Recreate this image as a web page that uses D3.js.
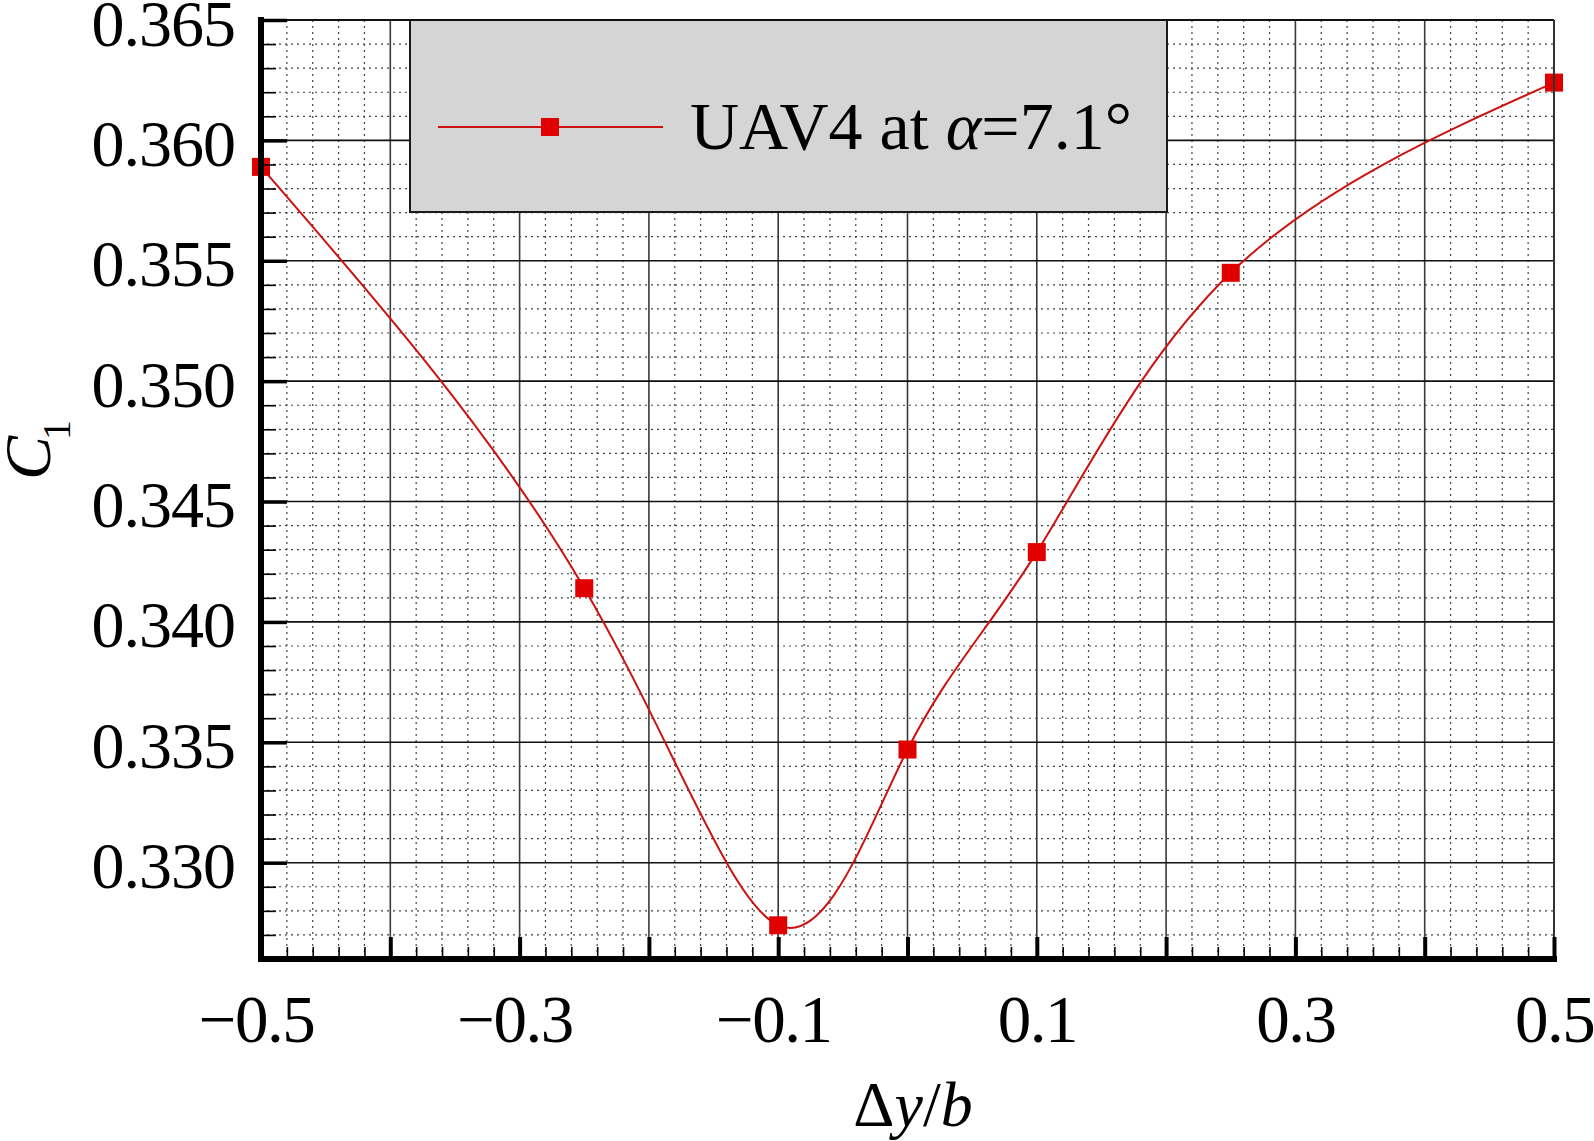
<!DOCTYPE html>
<html>
<head>
<meta charset="utf-8">
<script src="https://cdn.jsdelivr.net/npm/d3@7"></script>
<style>
  html, body { margin: 0; padding: 0; background: #fff; }
  svg { display: block; }
  text { font-family: "Liberation Serif", "Times New Roman", serif; fill: #000; }
</style>
</head>
<body>
<svg id="chart" width="1594" height="1141"></svg>
<script>
// ---- data ----
const dyb = [-0.5, -0.25, -0.1, 0, 0.1, 0.25, 0.5];
const cl = [0.3589, 0.3414, 0.3274, 0.3347, 0.3429, 0.3545, 0.3624];
const seriesName = "UAV4 at ";
const xMajorTicks = [-0.5, -0.4, -0.3, -0.2, -0.1, 0, 0.1, 0.2, 0.3, 0.4, 0.5];
const xLabelTicks = [-0.5, -0.3, -0.1, 0.1, 0.3, 0.5];
const yMajorTicks = [0.330, 0.335, 0.340, 0.345, 0.350, 0.355, 0.360, 0.365];

// ---- layout ----
const svg = d3.select("#chart");
const L = 261, R = 1554, T = 20, B = 959;
const x = d3.scaleLinear().domain([-0.5, 0.5]).range([L, R]);
const y = d3.scaleLinear().domain([0.326, 0.365]).range([B, T]);

const xMinor = d3.range(0, 51).map(i => +(-0.5 + i * 0.02).toFixed(3))
  .filter(v => Math.abs(Math.round(v * 10) - v * 10) > 1e-6);
const yMinor = d3.range(326, 366).map(i => i / 1000)
  .filter(v => Math.abs(Math.round(v * 200) - v * 200) > 1e-6);

// minor dotted grid
const g = svg.append("g");
g.selectAll("line.vmin").data(xMinor).join("line")
  .attr("x1", d => x(d)).attr("x2", d => x(d)).attr("y1", T).attr("y2", B)
  .attr("stroke", "#444").attr("stroke-width", 1.2).attr("stroke-dasharray", "2,4");
g.selectAll("line.hmin").data(yMinor).join("line")
  .attr("y1", d => y(d)).attr("y2", d => y(d)).attr("x1", L).attr("x2", R)
  .attr("stroke", "#444").attr("stroke-width", 1.2).attr("stroke-dasharray", "2,4");
// major grid
g.selectAll("line.vmaj").data(xMajorTicks.slice(1, -1)).join("line")
  .attr("x1", d => x(d)).attr("x2", d => x(d)).attr("y1", T).attr("y2", B)
  .attr("stroke", "#3a3a3a").attr("stroke-width", 1.6);
g.selectAll("line.hmaj").data(yMajorTicks).join("line")
  .attr("y1", d => y(d)).attr("y2", d => y(d)).attr("x1", L).attr("x2", R)
  .attr("stroke", "#111").attr("stroke-width", 1.6);

// legend box
const lg = svg.append("g");
lg.append("rect").attr("x", 410).attr("y", T).attr("width", 757).attr("height", 192)
  .attr("fill", "#d5d5d5").attr("stroke", "#1a1a1a").attr("stroke-width", 2);
lg.append("line").attr("x1", 438).attr("x2", 663).attr("y1", 127).attr("y2", 127)
  .attr("stroke", "#cc1111").attr("stroke-width", 2.2);
lg.append("rect").attr("x", 550 - 9).attr("y", 127 - 9).attr("width", 18).attr("height", 18)
  .attr("fill", "#e00000");
const lt = lg.append("text").attr("x", 690).attr("y", 149).attr("font-size", 68);
lt.append("tspan").text(seriesName);
lt.append("tspan").attr("font-style", "italic").text("α");
lt.append("tspan").text("=7.1°");

// curve
const line = d3.line().x((d, i) => x(dyb[i])).y(d => y(d)).curve(d3.curveNatural);
svg.append("path").datum(cl).attr("d", line)
  .attr("fill", "none").attr("stroke", "#cc1111").attr("stroke-width", 2);
svg.selectAll("rect.pt").data(cl).join("rect")
  .attr("x", (d, i) => x(dyb[i]) - 9).attr("y", d => y(d) - 9)
  .attr("width", 18).attr("height", 18).attr("fill", "#e00000");

// top & right border
svg.append("line").attr("x1", L).attr("x2", R).attr("y1", T).attr("y2", T)
  .attr("stroke", "#111").attr("stroke-width", 2);
svg.append("line").attr("x1", R).attr("x2", R).attr("y1", T).attr("y2", B)
  .attr("stroke", "#333").attr("stroke-width", 2);

// y axis
const yMinorAxis = svg.append("g").attr("transform", `translate(${L},0)`)
  .call(d3.axisLeft(y).tickValues(yMinor).tickSize(-15).tickFormat(""));
yMinorAxis.selectAll(".tick line").attr("stroke", "#000").attr("stroke-width", 1.6);
yMinorAxis.select(".domain").remove();
const yAx = svg.append("g").attr("transform", `translate(${L},0)`)
  .call(d3.axisLeft(y).tickValues(yMajorTicks).tickSize(-26).tickFormat(d3.format(".3f")));
yAx.selectAll(".tick line").attr("stroke", "#000").attr("stroke-width", 3.5);
yAx.select(".domain").remove();
yAx.selectAll(".tick text").attr("x", -26).attr("dy", null).attr("y", 25)
  .attr("font-size", 66).attr("letter-spacing", -1)
  .attr("font-family", "Liberation Serif, Times New Roman, serif")
  .attr("fill", "#000");

// x axis
const xMinorAxis = svg.append("g").attr("transform", `translate(0,${B})`)
  .call(d3.axisBottom(x).tickValues(xMinor).tickSize(-12).tickFormat(""));
xMinorAxis.selectAll(".tick line").attr("stroke", "#000").attr("stroke-width", 1.6);
xMinorAxis.select(".domain").remove();
const isLabel = v => xLabelTicks.some(t => Math.abs(t - v) < 1e-9);
const fmtX = v => isLabel(v) ? (v < 0 ? "\u2212" + d3.format(".1f")(-v) : d3.format(".1f")(v)) : "";
const xAx = svg.append("g").attr("transform", `translate(0,${B})`)
  .call(d3.axisBottom(x).tickValues(xMajorTicks).tickSize(-22).tickFormat(fmtX));
xAx.selectAll(".tick text").attr("y", 83).attr("dy", null)
  .attr("x", d => d < 0 ? -5 : 0)
  .attr("font-size", 67).attr("letter-spacing", -1.5)
  .attr("font-family", "Liberation Serif, Times New Roman, serif")
  .attr("fill", "#000");
xAx.selectAll(".tick line").attr("stroke", "#000").attr("stroke-width", 4);
xAx.select(".domain").remove();

// thick axis lines
svg.append("line").attr("x1", L).attr("x2", L).attr("y1", T - 3).attr("y2", B + 3)
  .attr("stroke", "#000").attr("stroke-width", 6);
svg.append("line").attr("x1", L - 3).attr("x2", R + 3).attr("y1", B).attr("y2", B)
  .attr("stroke", "#000").attr("stroke-width", 6);

// axis titles
const xt = svg.append("text").attr("x", 913).attr("y", 1126)
  .attr("text-anchor", "middle").attr("font-size", 64);
xt.append("tspan").text("Δ");
xt.append("tspan").attr("font-style", "italic").text("y");
xt.append("tspan").text("/");
xt.append("tspan").attr("font-style", "italic").text("b");

const yt = svg.append("text").attr("transform", "translate(50,480) rotate(-90)")
  .attr("font-size", 66);
yt.append("tspan").attr("font-style", "italic").text("C");
yt.append("tspan").attr("font-size", 40).attr("dy", 20).attr("dx", -4).text("1");
</script>
</body>
</html>
